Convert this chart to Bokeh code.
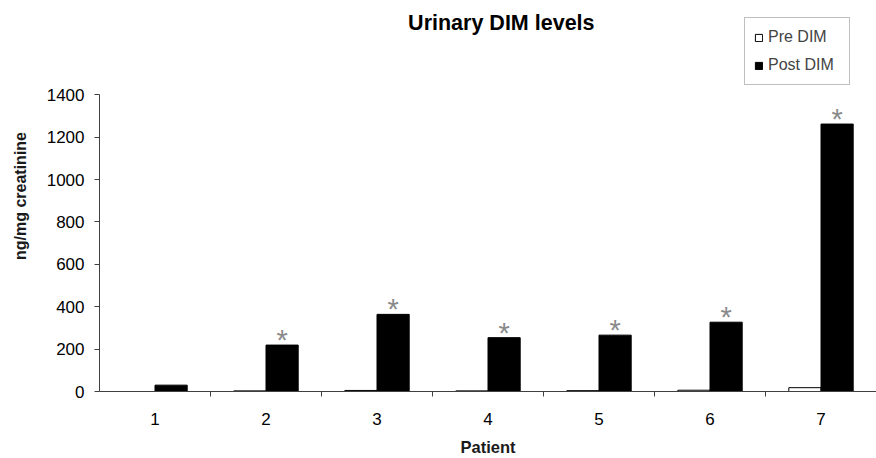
import numpy as np
from bokeh.plotting import figure
from bokeh.models import Range1d, FixedTicker, ColumnDataSource, Label, Legend
from bokeh.core.properties import value
from bokeh.embed import file_html
from bokeh.resources import INLINE

patients = ["1", "2", "3", "4", "5", "6", "7"]
pre_dim = [0, 3, 5, 3, 4, 6, 18]
post_dim = [30, 219, 364, 254, 266, 327, 1262]
significant = [False, True, True, True, True, True, True]
y_ticks = [0, 200, 400, 600, 800, 1000, 1200, 1400]

FONT = "Liberation Sans"
x = np.arange(1, len(patients) + 1)
bw = 0.29

src = ColumnDataSource(dict(
    xpre=x - bw / 2, xpost=x + bw / 2, pre=pre_dim, post=post_dim,
))
sig_x = [xi + bw / 2 for xi, s in zip(x, significant) if s]
sig_y = [v for v, s in zip(post_dim, significant) if s]
star_src = ColumnDataSource(dict(x=sig_x, y=sig_y, t=["*"] * len(sig_x)))

p = figure(width=876, height=458, output_backend="svg", toolbar_location=None,
           x_range=Range1d(0.5, 7.5), y_range=Range1d(0, 1845),
           min_border_left=99, min_border_right=0, min_border_top=0,
           min_border_bottom=67)
p.outline_line_color = None
p.grid.visible = False

r_pre = p.vbar(x="xpre", top="pre", width=bw, source=src, fill_color="white",
               line_color="black", line_width=1)
r_post = p.vbar(x="xpost", top="post", width=bw, source=src, fill_color="black",
                line_color="black", line_width=1)

p.text(x="x", y="y", text="t", source=star_src, text_font=value(FONT),
       text_font_size="29px", text_color="#8a8a8a", text_align="center",
       text_baseline="alphabetic", y_offset=-5)

# axes
ya = p.yaxis[0]
ya.ticker = FixedTicker(ticks=y_ticks)
ya.bounds = (0, 1400)
ya.axis_label = "ng/mg creatinine"
ya.axis_label_text_font = FONT
ya.axis_label_text_font_style = "bold"
ya.axis_label_text_font_size = "16px"
ya.axis_label_text_color = "#1a1a1a"
ya.axis_label_standoff = 15
ya.major_label_text_font = FONT
ya.major_label_text_font_size = "17px"
ya.major_label_text_color = "black"
ya.major_label_standoff = 10
ya.major_tick_out = 5
ya.major_tick_in = 0
ya.minor_tick_line_color = None
ya.axis_line_color = "#404040"
ya.major_tick_line_color = "#404040"

xa = p.xaxis[0]
xa.ticker = FixedTicker(ticks=list(x), minor_ticks=list(x[:-1] + 0.5))
xa.major_label_overrides = {int(xi): lab for xi, lab in zip(x, patients)}
xa.axis_label = "Patient"
xa.axis_label_text_font = FONT
xa.axis_label_text_font_style = "bold"
xa.axis_label_text_font_size = "16.5px"
xa.axis_label_text_color = "#1a1a1a"
xa.axis_label_standoff = 10
xa.major_label_text_font = FONT
xa.major_label_text_font_size = "17px"
xa.major_label_text_color = "black"
xa.major_label_standoff = 16
xa.major_tick_line_color = None
xa.major_tick_out = 0
xa.major_tick_in = 0
xa.minor_tick_out = 5
xa.minor_tick_in = 0
xa.minor_tick_line_color = "#404040"
xa.axis_line_color = "#404040"

title = Label(x=4.12, y=1741, text="Urinary DIM levels", text_font=FONT,
              text_font_style="bold", text_font_size="21.5px", text_align="center",
              text_baseline="middle", text_color="black")
p.add_layout(title)

legend = Legend(items=[("Pre DIM", [r_pre]), ("Post DIM", [r_post])],
                location=(645, 306), orientation="vertical",
                glyph_width=9, glyph_height=9, label_height=20, label_width=72,
                label_standoff=5, spacing=8, padding=9, margin=0,
                label_text_font=FONT, label_text_font_size="16px",
                border_line_color="#808080", border_line_width=1,
                background_fill_color="white", background_fill_alpha=1)
p.add_layout(legend)

open("out.html", "w").write(file_html(p, INLINE))
